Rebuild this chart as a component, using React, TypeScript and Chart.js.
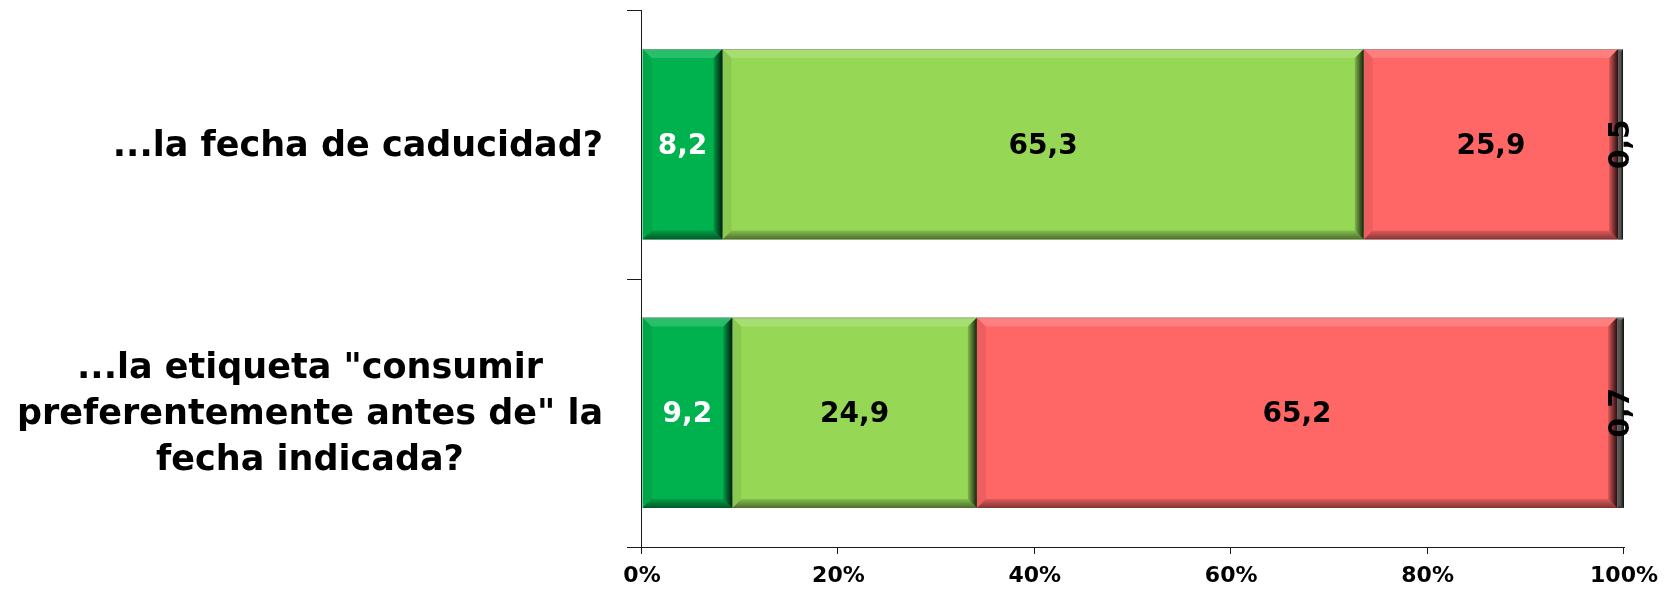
import React, { useEffect, useRef } from "react";
import { Chart, registerables } from "chart.js";

Chart.register(...registerables);

// Category names (one per bar) and the wrapped lines drawn beside each bar
const categories = ["...la fecha de caducidad?", '...la etiqueta "consumir preferentemente antes de" la fecha indicada?'];
const categoryLines = [
  ["...la fecha de caducidad?"],
  ['...la etiqueta "consumir', 'preferentemente antes de" la', "fecha indicada?"],
];

// Stacked shares (%) for each category
const seriesA = [8.2, 9.2];
const seriesB = [65.3, 24.9];
const seriesC = [25.9, 65.2];
const seriesD = [0.5, 0.7];

const xTicks = [0, 20, 40, 60, 80, 100];

const COLORS = ["#00B24E", "#96D856", "#FF6666", "#5C5C5C"];
const LABEL_COLORS = ["#FFFFFF", "#000000", "#000000", "#000000"];
const FONT = "'DejaVu Sans', Verdana, sans-serif";
const AXIS_COLOR = "#1a1a1a";

const fmt = (v: number) => v.toFixed(1).replace(".", ",");

// Beveled look on every bar segment
const bevelPlugin = {
  id: "bevel",
  afterDatasetsDraw(chart: any) {
    const ctx = chart.ctx;
    chart.data.datasets.forEach((_: any, di: number) => {
      const meta = chart.getDatasetMeta(di);
      meta.data.forEach((el: any) => {
        const p = el.getProps(["x", "y", "base", "height"], true);
        const l = Math.min(p.base, p.x);
        const r = Math.max(p.base, p.x);
        const t = p.y - p.height / 2;
        const bt = p.y + p.height / 2;
        const w = r - l;
        const b = Math.min(9, w / 2);
        ctx.save();
        // top
        ctx.beginPath();
        ctx.moveTo(l, t);
        ctx.lineTo(r, t);
        ctx.lineTo(r - b, t + b);
        ctx.lineTo(l + b, t + b);
        ctx.closePath();
        ctx.fillStyle = "rgba(255,255,255,0.16)";
        ctx.fill();
        // left
        ctx.beginPath();
        ctx.moveTo(l, t);
        ctx.lineTo(l + b, t + b);
        ctx.lineTo(l + b, bt - b);
        ctx.lineTo(l, bt);
        ctx.closePath();
        ctx.fillStyle = "rgba(0,0,0,0.07)";
        ctx.fill();
        // right
        let g = ctx.createLinearGradient(r - b, 0, r, 0);
        g.addColorStop(0, "rgba(0,0,0,0.15)");
        g.addColorStop(1, "rgba(0,0,0,0.85)");
        ctx.beginPath();
        ctx.moveTo(r, t);
        ctx.lineTo(r, bt);
        ctx.lineTo(r - b, bt - b);
        ctx.lineTo(r - b, t + b);
        ctx.closePath();
        ctx.fillStyle = g;
        ctx.fill();
        // bottom
        g = ctx.createLinearGradient(0, bt - b, 0, bt);
        g.addColorStop(0, "rgba(0,0,0,0.12)");
        g.addColorStop(1, "rgba(0,0,0,0.5)");
        ctx.beginPath();
        ctx.moveTo(l, bt);
        ctx.lineTo(r, bt);
        ctx.lineTo(r - b, bt - b);
        ctx.lineTo(l + b, bt - b);
        ctx.closePath();
        ctx.fillStyle = g;
        ctx.fill();
        // thin top rim
        ctx.fillStyle = "rgba(150,150,150,0.7)";
        ctx.fillRect(l, t, w, 1);
        ctx.restore();
      });
    });
  },
};

// Value labels centred in each segment; the thin last segment gets a vertical label
const valueLabelPlugin = {
  id: "valueLabels",
  afterDatasetsDraw(chart: any) {
    const ctx = chart.ctx;
    ctx.save();
    ctx.font = `bold 28px ${FONT}`;
    ctx.textAlign = "center";
    ctx.textBaseline = "middle";
    chart.data.datasets.forEach((ds: any, di: number) => {
      const meta = chart.getDatasetMeta(di);
      meta.data.forEach((el: any, i: number) => {
        const p = el.getProps(["x", "y", "base"], true);
        const cx = (p.x + p.base) / 2;
        const text = fmt(ds.data[i]);
        ctx.fillStyle = LABEL_COLORS[di];
        if (di === 3) {
          ctx.save();
          ctx.translate(cx + 1, p.y);
          ctx.rotate(-Math.PI / 2);
          ctx.fillText(text, 0, 0);
          ctx.restore();
        } else {
          ctx.fillText(text, cx, p.y + 2);
        }
      });
    });
    ctx.restore();
  },
};

// Axis lines with outward tick marks, drawn as 1px rectangles
const axesPlugin = {
  id: "axesLines",
  afterDraw(chart: any) {
    const { ctx, chartArea: ca, scales } = chart;
    const xs = scales.x;
    const ys = scales.y;
    const ax = Math.round(ca.left) - 1;
    const top = Math.round(ca.top);
    const ay = Math.round(ca.bottom);
    const right = Math.round(xs.getPixelForValue(100));
    ctx.save();
    ctx.fillStyle = AXIS_COLOR;
    // vertical axis
    ctx.fillRect(ax, top, 1, ay - top + 1);
    // category boundary ticks
    const n = categories.length;
    for (let i = 0; i <= n; i++) {
      const yy = Math.round(ys.top + (i * (ys.bottom - ys.top)) / n);
      ctx.fillRect(ax - 14, yy, 14, 1);
    }
    // horizontal axis
    ctx.fillRect(ax, ay, right - ax + 1, 1);
    xTicks.forEach((v) => {
      const px = Math.round(xs.getPixelForValue(v)) - 1;
      ctx.fillRect(px, ay, 1, 7);
    });
    ctx.restore();
  },
};

// Category labels: each block right-aligned next to the axis, lines centred within the block
const categoryLabelPlugin = {
  id: "categoryLabels",
  afterDraw(chart: any) {
    const ctx = chart.ctx;
    const yScale = chart.scales.y;
    const rightEdge = yScale.right - 39;
    const lineH = 46;
    ctx.save();
    ctx.font = `bold 35px ${FONT}`;
    ctx.fillStyle = "#000";
    ctx.textAlign = "center";
    ctx.textBaseline = "middle";
    categoryLines.forEach((lines, i) => {
      const cy = yScale.getPixelForTick(i) + 2.5;
      const widest = Math.max(...lines.map((s) => ctx.measureText(s).width));
      const cx = rightEdge - widest / 2;
      lines.forEach((s, k) => {
        ctx.fillText(s, cx, cy + (k - (lines.length - 1) / 2) * lineH);
      });
    });
    ctx.restore();
  },
};

export default function App() {
  const ref = useRef<HTMLCanvasElement>(null);

  useEffect(() => {
    if (!ref.current) return;
    const chart = new Chart(ref.current, {
      type: "bar",
      data: {
        labels: categories,
        datasets: [seriesA, seriesB, seriesC, seriesD].map((d, i) => ({
          data: d,
          backgroundColor: COLORS[i],
          borderWidth: 0,
          categoryPercentage: 1,
          barPercentage: 0.71,
        })),
      },
      options: {
        indexAxis: "y",
        responsive: false,
        animation: false,
        events: [],
        layout: { padding: { top: 10, right: 49, left: 0, bottom: 0 } },
        plugins: { legend: { display: false }, tooltip: { enabled: false } },
        scales: {
          x: {
            stacked: true,
            min: 0,
            max: 100,
            afterBuildTicks: (s: any) => {
              s.ticks = xTicks.map((v) => ({ value: v }));
            },
            afterFit: (s: any) => {
              s.height = 43;
            },
            grid: { drawOnChartArea: false, drawTicks: true, tickLength: 6, color: "rgba(0,0,0,0)" },
            border: { display: false },
            ticks: {
              color: "#000",
              font: { family: FONT, size: 22, weight: "bold" },
              padding: 10,
              maxRotation: 0,
              callback: (v: any) => `${v}%`,
            },
          },
          y: {
            stacked: true,
            afterFit: (s: any) => {
              s.width = 642;
            },
            grid: { drawOnChartArea: false, drawTicks: true, tickLength: 14, color: "rgba(0,0,0,0)", offset: true },
            border: { display: false },
            ticks: { display: false },
          },
        },
      },
      plugins: [bevelPlugin, valueLabelPlugin, axesPlugin, categoryLabelPlugin],
    });
    return () => chart.destroy();
  }, []);

  return (
    <div style={{ position: "fixed", left: 0, top: 0, width: 1673, height: 590, background: "#fff" }}>
      <canvas ref={ref} width={1673} height={590} style={{ display: "block" }} />
    </div>
  );
}
